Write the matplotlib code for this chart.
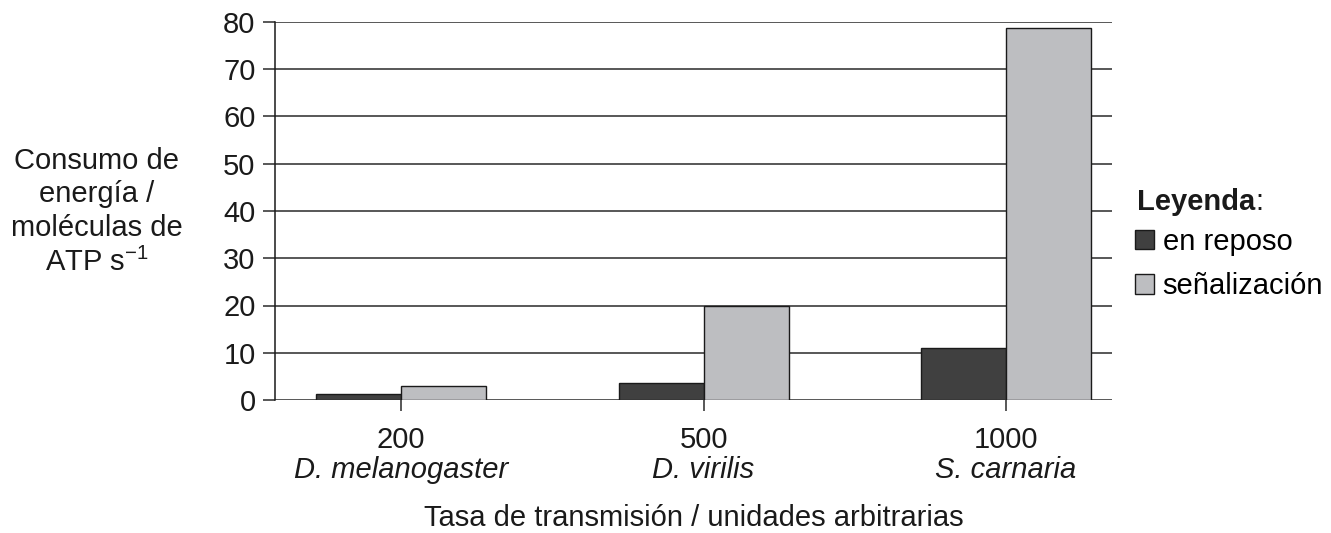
import matplotlib
matplotlib.use("Agg")
import matplotlib.pyplot as plt
import numpy as np

# data
rates = ["200", "500", "1000"]
species = ["D. melanogaster", "D. virilis", "S. carnaria"]
resting = [1.2, 3.6, 11.1]
signalling = [3.0, 20.0, 78.7]
series_names = ["en reposo", "señalización"]
yticks = [0, 10, 20, 30, 40, 50, 60, 70, 80]

plt.rcParams["font.family"] = ["Liberation Sans", "DejaVu Sans"]
plt.rcParams["mathtext.fontset"] = "custom"
plt.rcParams["mathtext.rm"] = "Liberation Sans"
plt.rcParams["mathtext.sf"] = "Liberation Sans"
fs = 21
ink = "#1a1a1a"

fig = plt.figure(figsize=(13.31, 5.33), dpi=100)
ax = fig.add_axes([275 / 1331, 1 - 400 / 533, (1112 - 275) / 1331, 378 / 533])

x = np.arange(len(rates))
w = 0.281
b1 = ax.bar(x - w / 2, resting, w, color="#404040", edgecolor=ink, linewidth=1, zorder=3,
            label=series_names[0])
b2 = ax.bar(x + w / 2, signalling, w, color="#bdbec1", edgecolor=ink, linewidth=1, zorder=3,
            label=series_names[1])

ax.set_ylim(0, 80)
ax.set_xlim(-0.4165, 2.35)
ax.set_yticks(yticks)
ax.yaxis.grid(True, color="#2a2a2a", linewidth=1.1, zorder=0)
ax.set_axisbelow(True)
for s in ["top", "right", "bottom"]:
    ax.spines[s].set_visible(False)
ax.spines["left"].set_linewidth(1.1)
ax.spines["left"].set_color(ink)
ax.tick_params(axis="y", direction="out", length=9, width=1.1, color="#2a2a2a",
               labelsize=fs, pad=5, labelcolor=ink)
ax.tick_params(axis="x", direction="out", length=8, width=1.1, color="#2a2a2a",
               labelsize=fs, pad=11, labelcolor=ink)
ax.set_xticks(x)
ax.set_xticklabels(rates)

for xi, sp in zip(x, species):
    ax.text(xi, -0.185, sp, transform=ax.get_xaxis_transform(), ha="center", va="center",
            fontsize=fs, style="italic", color=ink)

ax.text(0.5, -0.312, "Tasa de transmisión / unidades arbitrarias", transform=ax.transAxes,
        ha="center", va="center", fontsize=fs, color=ink)

fig.text(97 / 1331, 1 - 212 / 533, "Consumo de\nenergía /\nmoléculas de\nATP s$^{\\mathsf{-1}}$",
         ha="center", va="center", fontsize=fs, linespacing=1.25, color=ink)

# legend
t = fig.text(1137 / 1331, 1 - 202 / 533, "Leyenda", ha="left", va="center", fontsize=fs,
             fontweight="bold", color=ink)
ax.annotate(":", xy=(1, 0.5), xycoords=t, ha="left", va="center", fontsize=fs, color=ink)
ax.legend(handles=[b1, b2], loc="upper left", bbox_to_anchor=(1135 / 1331, 1 - 228 / 533),
          bbox_transform=fig.transFigure, frameon=False, fontsize=fs, handlelength=0.65,
          handleheight=0.65, handletextpad=0.3, labelspacing=0.55, borderpad=0, borderaxespad=0)

fig.savefig("out.png", dpi=100)
